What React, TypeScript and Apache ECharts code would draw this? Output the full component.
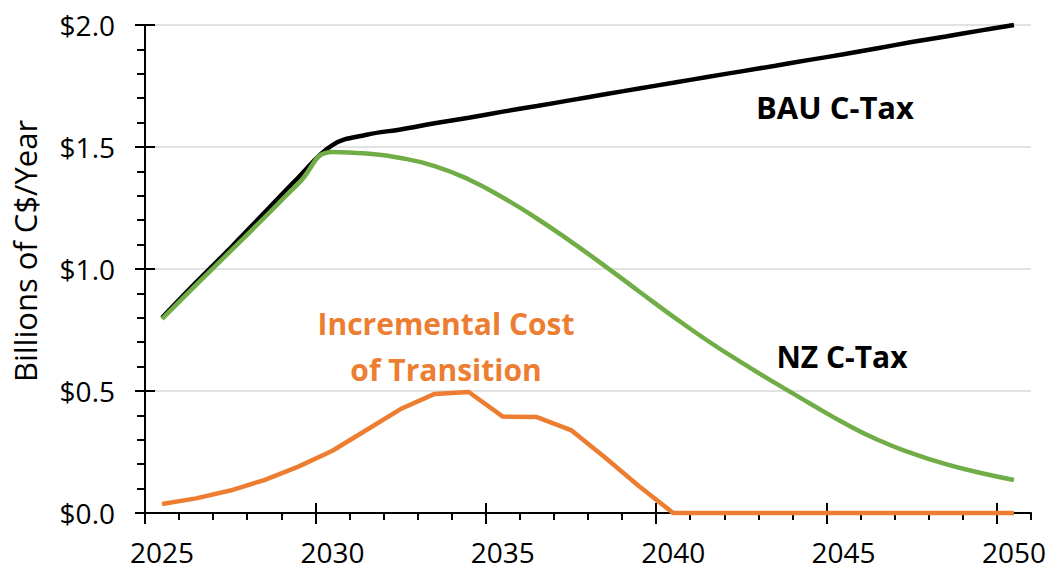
import React, { useEffect, useRef } from "react";
import * as echarts from "echarts";

const years = [
  "2025", "2026", "2027", "2028", "2029", "2030", "2031", "2032", "2033",
  "2034", "2035", "2036", "2037", "2038", "2039", "2040", "2041", "2042",
  "2043", "2044", "2045", "2046", "2047", "2048", "2049", "2050",
];

const bauCTax = [
  0.8, 0.945, 1.085, 1.23, 1.375, 1.508, 1.55, 1.572, 1.597, 1.62, 1.645,
  1.668, 1.692, 1.716, 1.74, 1.763, 1.787, 1.81, 1.833, 1.857, 1.88, 1.905,
  1.93, 1.953, 1.977, 2.0,
];

const nzCTax = [
  0.795, 0.935, 1.072, 1.21, 1.35, 1.48, 1.473, 1.455, 1.422, 1.367, 1.293,
  1.207, 1.112, 1.012, 0.908, 0.805, 0.707, 0.617, 0.532, 0.45, 0.37, 0.3,
  0.245, 0.2, 0.165, 0.135,
];

const incrementalCost = [
  0.037, 0.06, 0.092, 0.135, 0.19, 0.255, 0.34, 0.426, 0.488, 0.496, 0.395,
  0.393, 0.34, 0.227, 0.11, 0, 0, 0, 0, 0, 0, 0, 0, 0, 0, 0,
];

const yTicks = { min: 0, max: 2, interval: 0.5 };
const majorTickYears = { min: 0, max: 25, interval: 5 };

const W = 1051;
const H = 572;
const GRID_LEFT = 145;
const GRID_RIGHT = 20;
const GRID_TOP = 25;
const GRID_BOTTOM = 59;
const FONT = "'Open Sans', 'Noto Sans', sans-serif";

export default function App() {
  const ref = useRef<HTMLDivElement>(null);

  useEffect(() => {
    if (!ref.current) return;
    const chart = echarts.init(ref.current, undefined, { renderer: "svg" });
    const plotWidth = W - GRID_LEFT - GRID_RIGHT;
    const band = plotWidth / years.length;
    const majorWidth = band * (years.length - 1);
    const axisLine = { color: "#000000", width: 2 };

    chart.setOption({
      animation: false,
      backgroundColor: "#ffffff",
      textStyle: { fontFamily: FONT },
      grid: [
        { left: GRID_LEFT, right: GRID_RIGHT, top: GRID_TOP, bottom: GRID_BOTTOM },
        { left: GRID_LEFT, width: majorWidth, top: GRID_TOP, bottom: GRID_BOTTOM },
      ],
      xAxis: [
        {
          type: "category",
          gridIndex: 0,
          data: years,
          boundaryGap: true,
          axisLine: { show: true, onZero: false, lineStyle: axisLine },
          axisTick: { show: true, interval: 0, length: 7, lineStyle: axisLine },
          axisLabel: {
            interval: 4,
            color: "#000000",
            fontFamily: FONT,
            fontSize: 28,
            margin: 25,
          },
          splitLine: { show: false },
        },
        {
          type: "value",
          gridIndex: 1,
          position: "bottom",
          min: majorTickYears.min,
          max: majorTickYears.max,
          interval: majorTickYears.interval,
          axisLine: { show: false, onZero: false },
          axisTick: { show: true, length: 11, lineStyle: axisLine },
          axisLabel: { show: false },
          splitLine: { show: false },
        },
        {
          type: "value",
          gridIndex: 1,
          position: "bottom",
          min: majorTickYears.min,
          max: majorTickYears.max,
          interval: majorTickYears.interval,
          axisLine: { show: false, onZero: false },
          axisTick: { show: true, inside: true, length: 10, lineStyle: axisLine },
          axisLabel: { show: false },
          splitLine: { show: false },
        },
      ],
      yAxis: [
        {
          type: "value",
          gridIndex: 0,
          position: "left",
          min: yTicks.min,
          max: yTicks.max,
          interval: yTicks.interval,
          axisLine: { show: true, lineStyle: axisLine },
          axisTick: { show: true, length: 10, lineStyle: axisLine },
          minorTick: { show: true, splitNumber: 5, length: 8, lineStyle: axisLine },
          axisLabel: {
            color: "#000000",
            fontFamily: FONT,
            fontSize: 28,
            margin: 30,
            formatter: (v: number) => "$" + v.toFixed(1),
          },
          splitLine: { show: true, lineStyle: { color: "#d9d9d9", width: 1.5 } },
          minorSplitLine: { show: false },
        },
        {
          type: "value",
          gridIndex: 0,
          position: "left",
          min: yTicks.min,
          max: yTicks.max,
          interval: yTicks.interval,
          axisLine: { show: false },
          axisTick: { show: true, inside: true, length: 10, lineStyle: axisLine },
          axisLabel: { show: false },
          splitLine: { show: false },
        },
        {
          type: "value",
          gridIndex: 1,
          min: 0,
          max: 1,
          show: false,
        },
      ],
      series: [
        {
          name: "BAU C-Tax",
          type: "line",
          xAxisIndex: 0,
          yAxisIndex: 0,
          data: bauCTax,
          smooth: 0.4,
          showSymbol: false,
          symbol: "none",
          lineStyle: { color: "#000000", width: 4.5 },
          clip: false,
          z: 3,
        },
        {
          name: "NZ C-Tax",
          type: "line",
          xAxisIndex: 0,
          yAxisIndex: 0,
          data: nzCTax,
          smooth: 0.5,
          showSymbol: false,
          symbol: "none",
          lineStyle: { color: "#70ad47", width: 4.5 },
          z: 4,
        },
        {
          name: "Incremental Cost of Transition",
          type: "line",
          xAxisIndex: 0,
          yAxisIndex: 0,
          data: incrementalCost,
          smooth: false,
          showSymbol: false,
          symbol: "none",
          lineStyle: { color: "#ed7d31", width: 4.5, join: "round" },
          clip: false,
          z: 5,
        },
      ],
      graphic: [
        {
          type: "text",
          x: 25,
          y: 251,
          rotation: Math.PI / 2,
          style: {
            text: "Billions of C$/Year",
            fontFamily: FONT,
            fontSize: 31,
            fill: "#000000",
            align: "center",
            verticalAlign: "middle",
          },
        },
        {
          type: "text",
          x: 835,
          y: 107,
          style: {
            text: "BAU C-Tax",
            fontFamily: FONT,
            fontSize: 31,
            fontWeight: "bold",
            fill: "#000000",
            align: "center",
            verticalAlign: "middle",
          },
        },
        {
          type: "text",
          x: 842,
          y: 356,
          style: {
            text: "NZ C-Tax",
            fontFamily: FONT,
            fontSize: 30,
            fontWeight: "bold",
            fill: "#000000",
            align: "center",
            verticalAlign: "middle",
          },
        },
        {
          type: "text",
          x: 446,
          y: 346,
          style: {
            text: "Incremental Cost\nof Transition",
            fontFamily: FONT,
            fontSize: 30,
            lineHeight: 46,
            fontWeight: "bold",
            fill: "#ed7d31",
            align: "center",
            verticalAlign: "middle",
          },
        },
      ],
    });

    return () => chart.dispose();
  }, []);

  return (
    <div
      ref={ref}
      style={{ position: "fixed", left: 0, top: 0, width: W, height: H, background: "#fff" }}
    />
  );
}
